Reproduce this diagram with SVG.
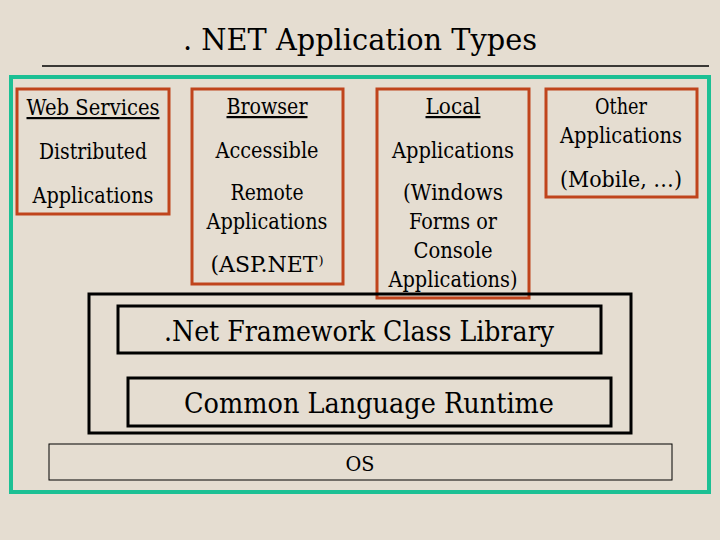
<svg xmlns="http://www.w3.org/2000/svg" width="720" height="540" viewBox="0 0 720 540">
<style>
text{fill:#000;text-anchor:middle;font-family:"DejaVu Serif",serif}
.t{font-size:22px}
.big{font-size:28px}
.red{fill:none;stroke:#c0441c;stroke-width:3}
.blk{fill:none;stroke:#000;stroke-width:3}
</style>
<rect width="720" height="540" fill="#e5ddd1"/>
<text x="360" y="50" style="font-size:30px" textLength="354" lengthAdjust="spacingAndGlyphs">. NET Application Types</text>
<line x1="42" y1="66" x2="709" y2="66" stroke="#000" stroke-width="1.5"/>
<rect x="11" y="77" width="698" height="415" fill="none" stroke="#1cc094" stroke-width="4"/>
<g id="web-services">
<rect class="red" x="17" y="89" width="152" height="125"/>
<text class="t" x="93" y="115" text-decoration="underline" textLength="133" lengthAdjust="spacingAndGlyphs">Web Services</text>
<text class="t" x="93" y="159" textLength="108" lengthAdjust="spacingAndGlyphs">Distributed</text>
<text class="t" x="93" y="203" textLength="121" lengthAdjust="spacingAndGlyphs">Applications</text>
</g>
<g id="browser">
<rect class="red" x="192" y="89" width="151" height="195"/>
<text class="t" x="267" y="114" text-decoration="underline" textLength="81" lengthAdjust="spacingAndGlyphs">Browser</text>
<text class="t" x="267" y="158" textLength="103" lengthAdjust="spacingAndGlyphs">Accessible</text>
<text class="t" x="267" y="200" textLength="73" lengthAdjust="spacingAndGlyphs">Remote</text>
<text class="t" x="267" y="229" textLength="121" lengthAdjust="spacingAndGlyphs">Applications</text>
<text class="t" x="267" y="272">(ASP.NET<tspan style="font-size:13px" dx="1" dy="-7">)</tspan></text>
</g>
<g id="local">
<rect class="red" x="377" y="89" width="152" height="209"/>
<text class="t" x="453" y="114" text-decoration="underline" textLength="55" lengthAdjust="spacingAndGlyphs">Local</text>
<text class="t" x="453" y="158" textLength="122" lengthAdjust="spacingAndGlyphs">Applications</text>
<text class="t" x="453" y="200" textLength="100" lengthAdjust="spacingAndGlyphs">(Windows</text>
<text class="t" x="453" y="229" textLength="88" lengthAdjust="spacingAndGlyphs">Forms or</text>
<text class="t" x="453" y="258" textLength="79" lengthAdjust="spacingAndGlyphs">Console</text>
<text class="t" x="453" y="287" textLength="129" lengthAdjust="spacingAndGlyphs">Applications)</text>
</g>
<g id="other">
<rect class="red" x="546" y="89" width="151" height="108"/>
<text class="t" x="621" y="114" textLength="52" lengthAdjust="spacingAndGlyphs">Other</text>
<text class="t" x="621" y="143" textLength="122" lengthAdjust="spacingAndGlyphs">Applications</text>
<text class="t" x="621" y="187" textLength="122" lengthAdjust="spacingAndGlyphs">(Mobile, …)</text>
</g>
<g id="framework">
<rect class="blk" x="89" y="294" width="542" height="139"/>
</g>
<g id="class-library">
<rect class="blk" x="118" y="306" width="483" height="47"/>
<text class="big" x="359" y="341" textLength="390" lengthAdjust="spacingAndGlyphs">.Net Framework Class Library</text>
</g>
<g id="clr">
<rect class="blk" x="128" y="378" width="483" height="48"/>
<text class="big" x="369" y="413" textLength="370" lengthAdjust="spacingAndGlyphs">Common Language Runtime</text>
</g>
<g id="os">
<rect x="49" y="444" width="623" height="36" fill="none" stroke="#000" stroke-width="1"/>
<text x="360" y="471" style="font-size:20px" textLength="29" lengthAdjust="spacingAndGlyphs">OS</text>
</g>
<g id="connectors"></g>
</svg>
